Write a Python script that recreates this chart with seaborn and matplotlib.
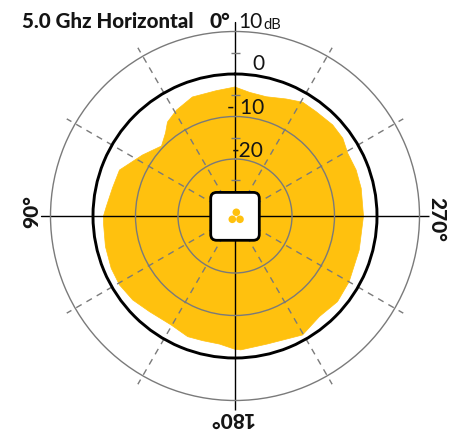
import numpy as np
import pandas as pd
import matplotlib
matplotlib.use('Agg')
import matplotlib.pyplot as plt
import seaborn as sns
from matplotlib.patches import FancyBboxPatch, Circle

# pattern (degrees counter clockwise from the top, dB)
angulos = [0, 8.5, 19.7, 28.9, 35.7, 39.9, 46.4, 56.6, 68.3, 77.1, 85.9, 90,
           93.2, 103.3, 112.9, 120.8, 129.4, 138.2, 149.7, 158.6, 165.5, 173.1,
           180, 182.5, 194.2, 209.6, 220, 230.1, 240, 254.7, 270, 282.4, 290.8,
           299, 305.8, 313, 322.1, 329.2, 336.4, 345.3, 353.3, 360]
ganho = [-3.06, -3.6, -3.67, -4.94, -6.19, -7.93, -9.53, -7.34, -4.16, -3.84, -3.04, -2.47,
         -2.42, -2.09, -1.79, -1.76, -2.28, -3.22, -3.69, -2.92, -3.11, -3.06,
         -2.05, -1.88, -2.35, -1.22, -2.52, -1.98, -2.42, -3.11, -3.18, -3.01, -2.92,
         -3.06, -2.14, -1.98, -2.31, -2.26, -3.36, -4.40, -4.12, -3.06]
aneis = [-20, -10, 0, 10]
marcas_db = [-25, -15, -5, 5]
raios = list(range(0, 360, 30))

AMARELO = '#FFC10E'
CINZA = '#7a7a7a'
ESCURO = '#141414'

sns.set_style('white')
plt.rcParams['font.family'] = ['Lato', 'DejaVu Sans']

df = pd.DataFrame({'theta': np.radians(angulos), 'db': ganho})

fig = plt.figure(figsize=(4.58, 4.30), dpi=100, facecolor='white')
W, H = 458, 430
CX, CY = 235, 216
PX_0DB, PX_POR_DB = 142, 4.25
R_MAX = 194.5

ax = fig.add_axes([(CX - R_MAX) / W, (H - CY - R_MAX) / H, 2 * R_MAX / W, 2 * R_MAX / H],
                  projection='polar')
ax.set_theta_zero_location('N')
ax.set_theta_direction(1)
ax.fill(df['theta'], df['db'], color=AMARELO, lw=0, zorder=1)
sns.lineplot(data=df, x='theta', y='db', ax=ax, sort=False, color=AMARELO, lw=0.5, zorder=1.5)
ax.set_rlim(-PX_0DB / PX_POR_DB, (R_MAX - PX_0DB) / PX_POR_DB)
ax.set_xlabel('')
ax.set_ylabel('')

ax.set_thetagrids(raios, labels=[''] * len(raios))
ax.set_rgrids(aneis, labels=[''] * len(aneis))
ax.set_axisbelow(False)
ax.spines['polar'].set_visible(False)
ax.patch.set_alpha(0)
ax.grid(True)
for ang, g in zip(raios, ax.xaxis.get_gridlines()):
    if ang % 90 == 0:
        g.set(color='black', lw=1.0, linestyle='-')
    else:
        g.set(color=CINZA, lw=1.0, linestyle=(0, (4.5, 4)))
for db, g in zip(aneis, ax.yaxis.get_gridlines()):
    if db == 0:
        g.set(color='black', lw=2.1, linestyle='-')
    else:
        g.set(color=CINZA, lw=1.0, linestyle='-')

# overlay in pixels for the labels, the box and the logo
ov = fig.add_axes([0, 0, 1, 1], zorder=5)
ov.set_xlim(0, W)
ov.set_ylim(H, 0)
ov.axis('off')

for db in marcas_db:
    y = CY - (PX_0DB + PX_POR_DB * db)
    ov.plot([CX - 4.5, CX + 4.5], [y, y], color=CINZA, lw=1.0, solid_capstyle='butt')

ov.add_patch(FancyBboxPatch((210.7, 192.4), 48.6, 47.9, boxstyle='round,pad=0,rounding_size=6',
                            fc='white', ec='black', lw=2.0))
for x, y in [(236.3, 212.3), (232.3, 219.3), (240, 219.3)]:
    ov.add_patch(Circle((x, y), 3.8, fc=AMARELO, ec='none'))

ov.text(22, 22, '5.0 Ghz Horizontal', fontsize=14.8, fontweight=900, color=ESCURO, ha='left', va='center')
ov.text(220, 21, '0°', fontsize=15, fontweight=900, color=ESCURO, ha='center', va='center')
ov.text(32, 212, '90°', fontsize=15, fontweight=900, color=ESCURO, ha='center', va='center', rotation=90)
ov.text(437, 219, '270°', fontsize=15, fontweight=900, color=ESCURO, ha='center', va='center', rotation=270)
ov.text(231, 418, '180°', fontsize=15, fontweight=900, color=ESCURO, ha='center', va='center', rotation=180)

ov.text(263, 22, '10', fontsize=15, color=ESCURO, ha='right', va='center')
ov.text(263, 25, 'dB', fontsize=10.5, color=ESCURO, ha='left', va='center')
ov.text(258, 64, '0', fontsize=15, color=ESCURO, ha='center', va='center')
ov.text(264, 108, '- 10', fontsize=15, color=ESCURO, ha='right', va='center')
ov.text(264, 151, '-20', fontsize=15, color=ESCURO, ha='right', va='center')

fig.savefig('out.png', dpi=100, facecolor='white')
